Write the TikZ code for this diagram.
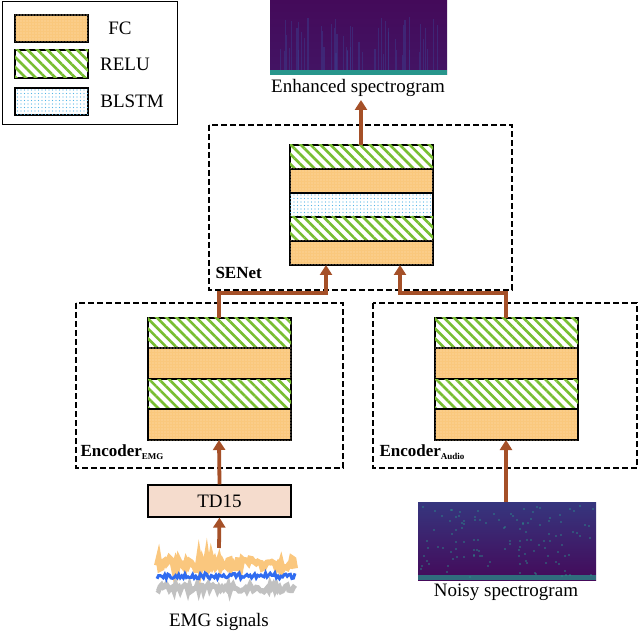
\documentclass[tikz,border=0pt]{standalone}
\usepackage{fontspec}
\setmainfont{Liberation Serif}
\usetikzlibrary{patterns.meta,arrows.meta}
\definecolor{fcor}{RGB}{250,200,125}
\definecolor{fcdot}{RGB}{255,225,180}
\definecolor{relug}{RGB}{120,190,50}
\definecolor{blsb}{RGB}{80,180,230}
\definecolor{arr}{RGB}{165,80,40}
\definecolor{tdf}{RGB}{245,220,205}
\definecolor{spa}{RGB}{68,10,90}
\definecolor{spb}{RGB}{60,60,140}
\definecolor{spt}{RGB}{40,150,140}
\begin{document}
\begin{tikzpicture}[x=1pt,y=-1pt,
  fc/.style={draw=black,line width=1.2pt,fill=fcor,postaction={pattern={Dots[distance=3pt,radius=0.6pt]},pattern color=fcdot}},
  relu/.style={draw=black,line width=1.2pt,fill=white,postaction={pattern={Lines[angle=-45,distance=7pt,line width=2.6pt]},pattern color=relug}},
  blstm/.style={draw=black,line width=1.2pt,fill=white,postaction={pattern={Dots[distance=3.5pt,radius=0.7pt]},pattern color=blsb}},
  dbox/.style={draw=black,line width=1.8pt,dash pattern=on 6pt off 3pt},
  ar/.style={draw=arr,line width=3.8pt,-{Triangle[length=10pt,width=12pt]}},
  lab/.style={font=\fontsize{19}{21}\selectfont},
  blab/.style={font=\bfseries\fontsize{17}{19}\selectfont,anchor=west}]
\useasboundingbox (0,0) rectangle (640,636);
% legend
\draw[line width=1pt] (2,2) rectangle (177,125);
\path[fc] (15,15) rectangle (88,42);
\path[relu] (15,50) rectangle (88,78);
\path[blstm] (15,88) rectangle (88,115);
\node[lab] (lfc) at (120,28) {FC};
\node[lab] (lre) at (125,64) {RELU};
\node[lab] (lbl) at (132,101) {BLSTM};
% enhanced spectrogram
\shade[top color=spa,bottom color=spa!80!spb] (270,0) rectangle (447,75);
\pgfmathsetseed{7}
\foreach \i in {1,...,50}{\pgfmathsetmacro\xx{280+rnd*160}\pgfmathsetmacro\hh{15+rnd*40}
  \draw[spb,opacity=0.5,line width=1.2pt] (\xx,72) -- (\xx,72-\hh);}
\fill[spt] (270,70) rectangle (447,75);
\node[lab] (enh) at (358,88) {Enhanced spectrogram};
\coordinate (enhb) at (361,100);
% SENet
\draw[dbox] (209,125) rectangle (512,290);
\path[relu] (290,145) rectangle (433,169);
\path[fc] (290,169) rectangle (433,193);
\path[blstm] (290,193) rectangle (433,217);
\path[relu] (290,217) rectangle (433,241);
\path[fc] (290,241) rectangle (433,265);
\node[blab] (sen) at (212,273) {SENet};
\coordinate (sent) at (361,145);
\coordinate (senbl) at (326,265);
\coordinate (senbr) at (400,265);
% Encoder EMG
\draw[dbox] (76,303) rectangle (343,468);
\path[relu] (148,318) rectangle (291,348);
\path[fc] (148,348) rectangle (291,379);
\path[relu] (148,379) rectangle (291,409);
\path[fc] (148,409) rectangle (291,440);
\node[blab] (ence) at (77,452) {Encoder\textsubscript{\fontsize{9}{9}\selectfont EMG}};
\coordinate (et) at (219,318);
\coordinate (eb) at (219,440);
% Encoder Audio
\draw[dbox] (373,303) rectangle (637,468);
\path[relu] (435,318) rectangle (578,348);
\path[fc] (435,348) rectangle (578,379);
\path[relu] (435,379) rectangle (578,409);
\path[fc] (435,409) rectangle (578,440);
\node[blab] (enca) at (376,452) {Encoder\textsubscript{\fontsize{9}{9}\selectfont Audio}};
\coordinate (at) at (506,318);
\coordinate (ab) at (506,440);
% TD15
\node[draw=black,line width=1.2pt,fill=tdf,minimum width=143pt,minimum height=32pt,lab] (td) at (219.5,501) {TD15};
% EMG signals
\pgfmathsetseed{3}
\draw[gray!60,line width=5pt,opacity=0.8] plot[domain=157:295,samples=90] (\x,{588+4*rand});
\draw[fcor!90!orange,line width=6pt,opacity=0.9] plot[domain=157:295,samples=90] (\x,{564+6*rand});
\draw[blsb!60!blue,line width=3pt] plot[domain=157:295,samples=90] (\x,{576+3*rand});
\coordinate (emgt) at (219,548);
\node[lab] (emgl) at (219,622) {EMG signals};
% noisy spectrogram
\shade[top color=spb!90!black,bottom color=spa] (418,502) rectangle (596,580);
\pgfmathsetseed{11}
\foreach \i in {1,...,120}{\pgfmathsetmacro\xx{420+rnd*174}\pgfmathsetmacro\yy{505+rnd*72}
  \fill[spt,opacity=0.4] (\xx,\yy) rectangle ++(2,2);}
\fill[spt,opacity=0.7] (418,575) rectangle (596,580);
\node[lab] (noisy) at (506,592) {Noisy spectrogram};
\coordinate (nt) at (506,502);
% arrows
\draw[ar] (sent) -- (enhb);
\draw[ar] (et) |- (326,293) -- (senbl);
\draw[ar] (at) |- (400,293) -- (senbr);
\draw[ar] (td.north) -- (eb);
\draw[ar] (emgt) -- (td.south);
\draw[ar] (nt) -- (ab);
\end{tikzpicture}
\end{document}
